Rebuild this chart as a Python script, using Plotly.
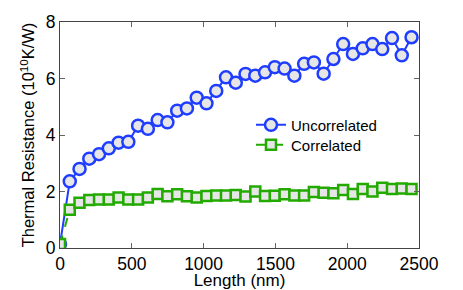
import plotly.graph_objects as go

length_nm = [i * 68 for i in range(37)]
uncorrelated = [0.14, 2.36, 2.8, 3.16, 3.32, 3.53, 3.73, 3.76, 4.33, 4.22, 4.53, 4.45, 4.86, 4.94,
                5.32, 5.12, 5.56, 6.04, 5.85, 6.16, 6.1, 6.22, 6.4, 6.35, 6.1, 6.52, 6.57, 6.17,
                6.69, 7.22, 6.87, 7.07, 7.22, 7.04, 7.43, 6.82, 7.46]
correlated = [0.14, 1.35, 1.6, 1.7, 1.72, 1.72, 1.79, 1.72, 1.72, 1.79, 1.91, 1.83, 1.9, 1.83,
              1.79, 1.84, 1.86, 1.86, 1.88, 1.82, 2.0, 1.84, 1.85, 1.9, 1.86, 1.86, 1.98, 1.96,
              1.94, 2.05, 1.91, 2.09, 2.0, 2.13, 2.09, 2.11, 2.09]
x_ticks = [0, 500, 1000, 1500, 2000, 2500]
y_ticks = [0, 2, 4, 6, 8]

BLUE = "#1f3dff"
GREEN = "#22aa00"
FILL = "#e6e6e6"
FONT = "Liberation Sans, Arial, sans-serif"

fig = go.Figure()
fig.add_trace(go.Scatter(
    x=length_nm, y=uncorrelated, name="Uncorrelated", mode="lines+markers",
    line=dict(color=BLUE, width=2),
    marker=dict(symbol="circle", size=12, color=FILL, line=dict(color=BLUE, width=2.5)),
    legend="legend",
))
fig.add_trace(go.Scatter(
    x=length_nm, y=correlated, name="Correlated", mode="lines+markers",
    line=dict(color=GREEN, width=2, dash="dash"),
    marker=dict(symbol="square", size=10, color=FILL, line=dict(color=GREEN, width=2.5)),
    legend="legend2",
))

axis_common = dict(
    showgrid=False, zeroline=False, showline=True, linecolor="#444444", linewidth=1,
    mirror="ticks", ticks="inside", ticklen=5, tickcolor="#666666", automargin=False,
    tickfont=dict(family=FONT, size=17.5, color="black"),
)
legend_common = dict(xanchor="left", yanchor="middle", bgcolor="rgba(0,0,0,0)",
                     font=dict(family=FONT, size=15, color="black"), itemwidth=30)
fig.update_layout(
    width=455, height=282,
    margin=dict(l=52, r=44, t=14, b=42),
    paper_bgcolor="white", plot_bgcolor="white",
    font=dict(family=FONT, size=17, color="black"),
    xaxis=dict(range=[0, 2500], tickvals=x_ticks,
               title=dict(text="Length (nm)", font=dict(size=17), standoff=1), **axis_common),
    yaxis=dict(range=[0, 8], tickvals=y_ticks,
               title=dict(text="Thermal Resistance (10<sup>10</sup>K/W)", font=dict(size=16.5), standoff=6),
               **axis_common),
    legend=dict(x=0.532, y=0.544, **legend_common),
    legend2=dict(x=0.532, y=0.456, **legend_common),
    showlegend=True,
)
fig.write_html("out.html")
